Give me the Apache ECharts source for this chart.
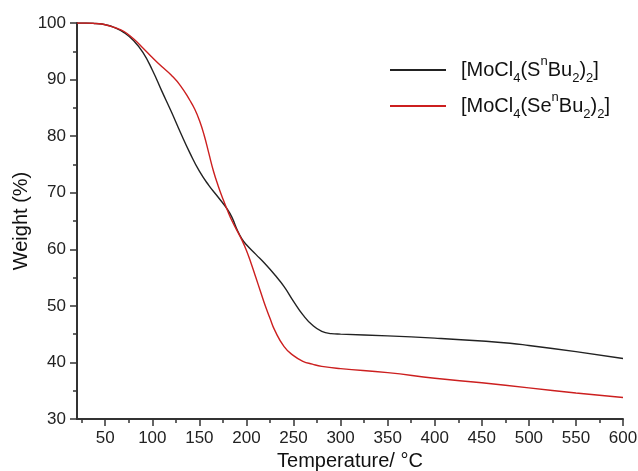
<!DOCTYPE html>
<html>
<head>
<meta charset="utf-8">
<script src="https://cdn.jsdelivr.net/npm/echarts@6/dist/echarts.min.js"></script>
<style>html,body{margin:0;padding:0;background:#fff}#c{width:638px;height:471px}</style>
</head>
<body>
<div id="c"></div>
<script>
// Temperature (°C) sample points
var tempS = [20,30,40,50,60,70,80,90,100,110,120,130,140,150,160,170,180,185,190,195,200,210,220,230,240,250,260,270,280,290,300,350,400,450,480,500,550,600];
var weightS = [100,100,99.9,99.7,99.2,98.3,96.9,94.8,91.7,88.0,84.4,80.6,77.0,73.8,71.3,69.2,67,65.5,63.5,61.9,60.8,59.1,57.4,55.5,53.4,50.8,48.4,46.6,45.5,45.1,45.0,44.7,44.3,43.8,43.4,43.0,41.9,40.7];
var tempSe = [20,30,40,50,60,70,80,90,100,110,120,130,140,145,150,155,160,165,170,175,180,185,190,195,200,205,210,215,220,225,230,240,250,260,270,280,300,350,400,450,500,550,600];
var weightSe = [100,100,99.9,99.7,99.2,98.5,97.2,95.6,93.9,92.3,90.8,88.9,86.3,84.8,82.8,80.2,77.0,73.8,71.2,68.9,66.8,64.9,63.3,61.7,59.8,57.5,55.0,52.5,50.0,47.8,45.7,42.8,41.2,40.2,39.7,39.3,38.9,38.2,37.2,36.4,35.5,34.6,33.8];
var xMajorTicks = [50,100,150,200,250,300,350,400,450,500,550,600];
var xMinorTicks = [25,75,125,175,225,275,325,375,425,475,525,575];
var seriesNames = ['S', 'Se'];

function zip(a, b) { return a.map(function (v, i) { return [v, b[i]]; }); }

var chart = echarts.init(document.getElementById('c'));
var axisCol = '#333';
var font = 'Liberation Sans, Arial, sans-serif';
var rich = {
  b: {fontSize: 20, fontFamily: font, color: '#111', lineHeight: 26},
  sub: {fontSize: 13, fontFamily: font, color: '#111', verticalAlign: 'bottom', lineHeight: 14, padding: [0,0,-2,0]},
  sup: {fontSize: 13, fontFamily: font, color: '#111', verticalAlign: 'top', lineHeight: 14, padding: [-2,0,0,0]}
};
chart.setOption({
  animation: false,
  grid: {left: 77, right: 15, top: 23, bottom: 52, containLabel: false, outerBoundsMode: 'none'},
  legend: {
    orient: 'vertical', left: 385, top: 50, itemWidth: 56, itemHeight: 2, itemGap: 6,
    icon: 'rect',
    data: seriesNames,
    formatter: function (n) {
      return '{b|[MoCl}{sub|4}{b|(' + n + '}{sup|n}{b|Bu}{sub|2}{b|)}{sub|2}{b|]}';
    },
    textStyle: {rich: rich, padding: [0,0,0,10]}
  },
  xAxis: [{
    type: 'value', min: 20, max: 600,
    name: 'Temperature/ °C', nameLocation: 'middle', nameGap: 31,
    nameTextStyle: {fontSize: 20, fontFamily: font, color: '#111'},
    axisLine: {show: true, lineStyle: {color: axisCol, width: 2}},
    axisTick: {show: true, inside: false, customValues: xMajorTicks, length: 7, lineStyle: {color: axisCol, width: 1.5}},
    axisLabel: {customValues: xMajorTicks, fontSize: 17, fontFamily: font, color: '#222', margin: 11},
    splitLine: {show: false}
  }, {
    type: 'value', min: 20, max: 600, position: 'bottom', gridIndex: 0,
    axisLine: {show: false},
    axisTick: {show: true, inside: false, customValues: xMinorTicks, length: 4, lineStyle: {color: axisCol, width: 1.5}},
    axisLabel: {show: false},
    splitLine: {show: false}
  }],
  yAxis: {
    type: 'value', min: 30, max: 100, interval: 10,
    name: 'Weight (%)', nameLocation: 'middle', nameGap: 46, nameMoveOverlap: false,
    nameTextStyle: {fontSize: 20, fontFamily: font, color: '#111'},
    axisLine: {show: true, lineStyle: {color: axisCol, width: 2}},
    axisTick: {show: true, inside: false, length: 7, lineStyle: {color: axisCol, width: 1.5}},
    minorTick: {show: true, splitNumber: 2, length: 4, lineStyle: {color: axisCol, width: 1.5}},
    axisLabel: {fontSize: 17, fontFamily: font, color: '#222', margin: 11},
    splitLine: {show: false}
  },
  series: [{
    name: 'S', type: 'line', data: zip(tempS, weightS), smooth: 0.5, showSymbol: false,
    lineStyle: {color: '#222', width: 1.4}, itemStyle: {color: '#222'}
  }, {
    name: 'Se', type: 'line', data: zip(tempSe, weightSe), smooth: 0.5, showSymbol: false,
    lineStyle: {color: '#cc1f1f', width: 1.4}, itemStyle: {color: '#cc1f1f'}
  }]
});
</script>
</body>
</html>
